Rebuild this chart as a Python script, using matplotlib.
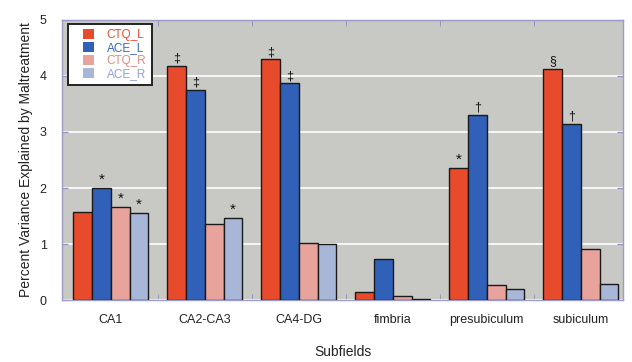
import numpy as np
import matplotlib
matplotlib.use("Agg")
import matplotlib.pyplot as plt
from matplotlib.patches import Rectangle

plt.rcParams['font.family'] = ['Liberation Sans', 'DejaVu Sans']

subfields = ["CA1", "CA2-CA3", "CA4-DG", "fimbria", "presubiculum", "subiculum"]
series = ["CTQ_L", "ACE_L", "CTQ_R", "ACE_R"]

ctq_l = [1.57, 4.18, 4.30, 0.15, 2.36, 4.13]
ace_l = [2.00, 3.75, 3.87, 0.73, 3.31, 3.15]
ctq_r = [1.67, 1.35, 1.02, 0.07, 0.27, 0.92]
ace_r = [1.55, 1.47, 1.00, 0.02, 0.20, 0.28]

# significance marks per series, one per subfield
marks_ctq_l = ["", "‡", "‡", "", "*", "§"]
marks_ace_l = ["*", "‡", "‡", "", "†", "†"]
marks_ctq_r = ["*", "", "", "", "", ""]
marks_ace_r = ["*", "*", "", "", "", ""]

colors = ["#e84a2c", "#3060b8", "#e8a49c", "#a8b6d8"]
text_colors = ["#e8502e", "#3a66c0", "#e08a80", "#8fa2d0"]

values = [ctq_l, ace_l, ctq_r, ace_r]
marks = [marks_ctq_l, marks_ace_l, marks_ctq_r, marks_ace_r]

fig = plt.figure(figsize=(6.32, 3.62), dpi=100)
fig.patch.set_facecolor("white")
ax = fig.add_axes([0.098, 0.171, 0.888, 0.774])
ax.set_facecolor("#c8c8c4")

x = np.arange(len(subfields))
w = 0.2
handles = []
for i, (vals, c, mk) in enumerate(zip(values, colors, marks)):
    pos = x + (i - 1.5) * w
    h = ax.bar(pos, vals, width=w, color=c, edgecolor="#1a1a1a", linewidth=1.0,
               zorder=3, label=series[i])
    handles.append(h)
    for p, v, m in zip(pos, vals, mk):
        if m:
            fs = 11 if m == "*" else 9
            ax.text(p, v + 0.02, m, ha="center", va="bottom", fontsize=fs,
                    color="#111111", zorder=4)

ax.set_xlim(-0.52, 5.45)
ax.set_ylim(0, 5)
ax.set_yticks([0, 1, 2, 3, 4, 5])
ax.yaxis.grid(True, color="white", linewidth=1.2, zorder=1)
ax.set_axisbelow(True)

ax.set_xticks(x)
ax.set_xticklabels(subfields, fontsize=9, color="#222222")
ax.set_xticks(x[:-1] + 0.5, minor=True)
ax.tick_params(axis="x", which="major", length=0, pad=10)
ax.tick_params(axis="x", which="minor", direction="in", length=4, color="#8890c0",
               top=True)
ax.tick_params(axis="y", direction="in", length=4, color="#8890c0", right=True,
               labelsize=9, labelcolor="#222222", pad=11)

for s in ax.spines.values():
    s.set_color("#9a9cc4")
    s.set_linewidth(1.0)

ax.set_ylabel("Percent Variance Explained by Maltreatment", fontsize=10,
              color="#222222", labelpad=5)
ax.set_xlabel("Subfields", fontsize=10, color="#222222", labelpad=14)

# legend box drawn separately so the left padding can be wider than the top
ax.add_patch(Rectangle((0.0107, 0.768), 0.149, 0.218, transform=ax.transAxes,
                       facecolor="white", edgecolor="#222222", linewidth=1.4,
                       zorder=5))
leg = ax.legend(handles=handles, labels=series, loc="upper left",
                bbox_to_anchor=(0.038, 0.968), fontsize=8.5, frameon=False,
                handlelength=0.9, handleheight=1.0, borderpad=0.0,
                labelspacing=0.05, handletextpad=1.1, borderaxespad=0.0)
leg.set_zorder(6)
for t, c in zip(leg.get_texts(), text_colors):
    t.set_color(c)
for p in leg.get_patches():
    p.set_edgecolor("none")

fig.savefig("out.png", dpi=100)
